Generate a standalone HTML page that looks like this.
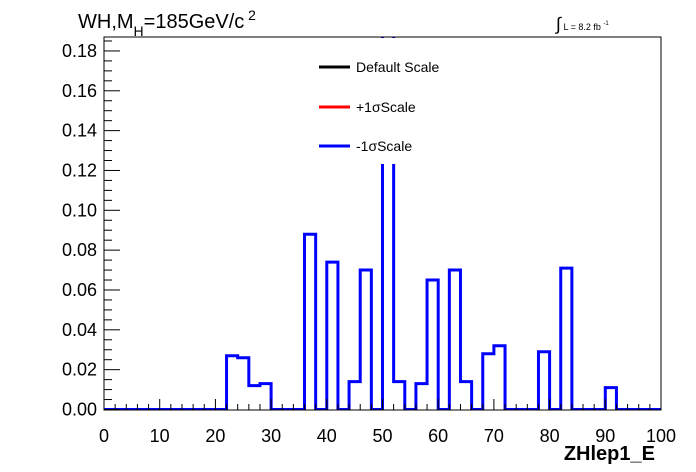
<!DOCTYPE html>
<html><head><meta charset="utf-8"><style>
body{margin:0;background:#fff}
svg{display:block;font-family:"Liberation Sans",sans-serif}
</style></head><body>
<svg id="c" width="696" height="472" viewBox="0 0 696 472">
<rect width="696" height="472" fill="#fff"/>
<defs><clipPath id="fr"><rect x="104" y="37" width="557" height="373"/></clipPath></defs>
<g id="hist" clip-path="url(#fr)"></g>
<g id="axes"></g>
<rect x="300" y="38" width="170" height="126" fill="#fff"/>
<rect x="104" y="37" width="557" height="373" fill="none" stroke="#000" stroke-width="1"/>
<g font-size="14">
<g><line x1="319" y1="67" x2="350" y2="67" stroke="#000" stroke-width="3"/><text x="356" y="72">Default Scale</text></g>
<g><line x1="319" y1="107" x2="350" y2="107" stroke="#f00" stroke-width="3"/><text x="356" y="112">+1σScale</text></g>
<g><line x1="319" y1="146" x2="350" y2="146" stroke="#00f" stroke-width="3"/><text x="356" y="151">-1σScale</text></g>
</g>
<text x="78" y="28" font-size="20">WH,M<tspan font-size="14" dy="8">H</tspan><tspan dy="-8">=185GeV/c</tspan><tspan font-size="14" dy="-8"> 2</tspan></text>
<text x="556" y="30" font-size="9"><tspan font-size="18">∫</tspan> L = 8.2 fb <tspan font-size="6" dy="-5">-1</tspan></text>
<text x="655" y="460" font-size="20" font-weight="bold" text-anchor="end">ZHlep1_E</text>
</svg>
<script>
const binEdges=[0,2,4,6,8,10,12,14,16,18,20,22,24,26,28,30,32,34,36,38,40,42,44,46,48,50,52,54,56,58,60,62,64,66,68,70,72,74,76,78,80,82,84,86,88,90,92,94,96,98,100];
const minusVals=[0,0,0,0,0,0,0,0,0,0,0,0.027,0.026,0.012,0.013,0,0,0,0.088,0,0.074,0,0.014,0.070,0,0.25,0.014,0,0.013,0.065,0,0.070,0.014,0,0.028,0.032,0,0,0,0.029,0,0.071,0,0,0,0.011,0,0,0,0];
const xTicks=[0,10,20,30,40,50,60,70,80,90,100];
const yTicks=[0,0.02,0.04,0.06,0.08,0.10,0.12,0.14,0.16,0.18];
const yTickLabels=["0.00","0.02","0.04","0.06","0.08","0.10","0.12","0.14","0.16","0.18"];
const X0=104,X1=661,Y0=409.5,YT=37,yMax=0.187;
const sx=v=>X0+(X1-X0)*v/100;
const sy=v=>Y0-(Y0-YT)*v/yMax;
const NS="http://www.w3.org/2000/svg";
function mk(t,a,p){const e=document.createElementNS(NS,t);for(const k in a)e.setAttribute(k,a[k]);p.appendChild(e);return e;}
const h=document.getElementById('hist');
let d="M"+sx(binEdges[0])+","+sy(minusVals[0]);
for(let i=0;i<minusVals.length;i++){
  if(i>0)d+=" L"+sx(binEdges[i])+","+sy(minusVals[i]);
  d+=" L"+sx(binEdges[i+1])+","+sy(minusVals[i]);
}
const p=mk('path',{d:d,fill:'none',stroke:'#00f','stroke-width':3},h);


const ax=document.getElementById('axes');
for(let v=0;v<=100;v+=2){const maj=v%10===0;mk('line',{x1:sx(v),x2:sx(v),y1:410,y2:410-(maj?11:6),stroke:'#000'},ax);}
xTicks.forEach(v=>{const t=mk('text',{x:sx(v),y:442,'font-size':18,'text-anchor':'middle'},ax);t.textContent=v;

});
for(let k=0;k<=37;k++){const v=k*0.005;const maj=k%4===0;mk('line',{x1:104,x2:104+(maj?16:8),y1:sy(v),y2:sy(v),stroke:'#000'},ax);}
yTicks.forEach((v,i)=>{const t=mk('text',{x:97,y:sy(v)+6,'font-size':18,'text-anchor':'end'},ax);t.textContent=yTickLabels[i];

});
</script>
</body></html>
